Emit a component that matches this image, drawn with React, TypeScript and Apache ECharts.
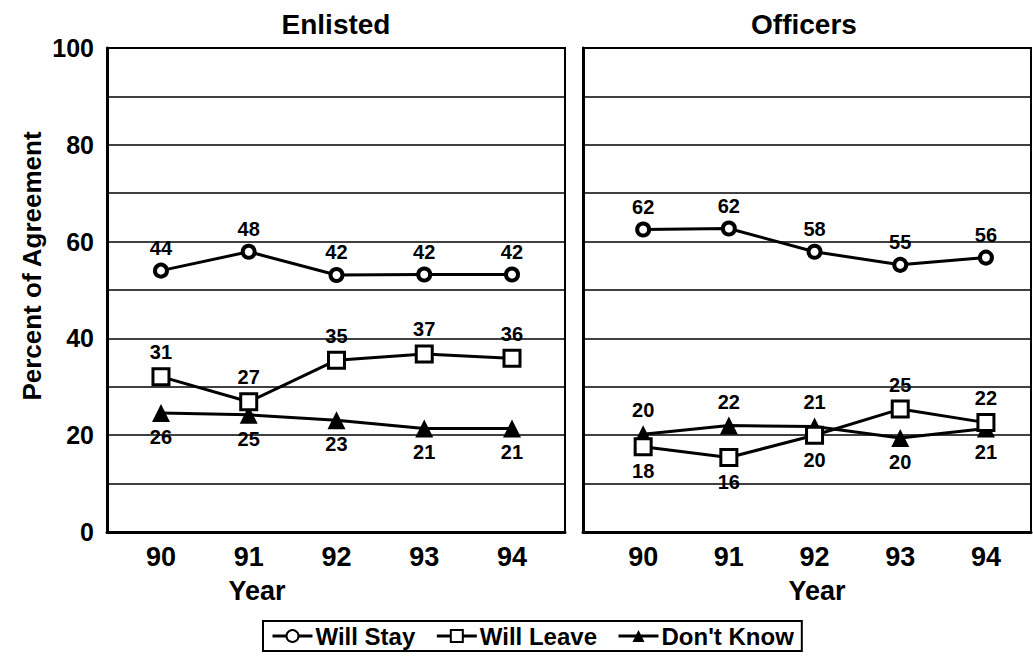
import React, { useEffect, useRef } from "react";
import * as echarts from "echarts";

const years = [90, 91, 92, 93, 94];
const yTicks = [0, 20, 40, 60, 80, 100];
const seriesNames = ["Will Stay", "Will Leave", "Don't Know"];
const panelTitles = ["Enlisted", "Officers"];

// plotted positions
const enlistedStay = [54.0, 57.9, 53.1, 53.2, 53.2];
const enlistedLeave = [32.1, 26.9, 35.5, 36.8, 35.9];
const enlistedDontKnow = [24.6, 24.2, 23.1, 21.4, 21.4];
const officersStay = [62.5, 62.7, 57.9, 55.2, 56.7];
const officersLeave = [17.6, 15.4, 20.0, 25.4, 22.6];
const officersDontKnow = [20.2, 22.0, 21.8, 19.4, 21.4];

// printed value labels
const enlistedStayLabels = [44, 48, 42, 42, 42];
const enlistedLeaveLabels = [31, 27, 35, 37, 36];
const enlistedDontKnowLabels = [26, 25, 23, 21, 21];
const officersStayLabels = [62, 62, 58, 55, 56];
const officersLeaveLabels = [18, 16, 20, 25, 22];
const officersDontKnowLabels = [20, 22, 21, 20, 21];

const FONT = "'Liberation Sans', Arial, Helvetica, sans-serif";

export default function App() {
  const ref = useRef<HTMLDivElement>(null);

  useEffect(() => {
    if (!ref.current) return;
    const chart = echarts.init(ref.current, undefined, { renderer: "svg" });

    const labelStyle = {
      show: true,
      color: "#000",
      fontFamily: FONT,
      fontWeight: "bold" as const,
      fontSize: 20,
      distance: 5,
    };

    const styles: any = {
      "Will Stay": {
        symbol: "circle",
        symbolSize: 12,
        itemStyle: { color: "#fff", borderColor: "#000", borderWidth: 4 },
      },
      "Will Leave": {
        symbol: "rect",
        symbolSize: 16,
        itemStyle: { color: "#fff", borderColor: "#000", borderWidth: 3 },
      },
      "Don't Know": {
        symbol: "triangle",
        symbolSize: 18,
        itemStyle: { color: "#000", borderColor: "#000", borderWidth: 0 },
      },
    };

    const makeSeries = (
      name: string,
      gridIdx: number,
      values: number[],
      labels: number[],
      positions: string[]
    ) => ({
      type: "line",
      name,
      xAxisIndex: gridIdx,
      yAxisIndex: gridIdx,
      ...styles[name],
      lineStyle: { color: "#000", width: 3 },
      z: name === "Will Leave" ? 3 : 2,
      data: values.map((v, i) => ({
        value: [years[i], v],
        label: { ...labelStyle, position: positions[i], formatter: String(labels[i]) },
      })),
    });

    const allTop = years.map(() => "top");
    const allBottom = years.map(() => "bottom");
    const offLeavePos = officersLeave.map((v, i) => (v > officersDontKnow[i] ? "top" : "bottom"));
    const offDkPos = officersDontKnow.map((v, i) => (v >= officersLeave[i] ? "top" : "bottom"));

    const gridDefs = [
      { left: 107, top: 48, width: 458, height: 484 },
      { left: 583, top: 48, width: 448, height: 484 },
    ];
    const xRanges = [
      { min: 89.385, max: 94.604 },
      { min: 89.298, max: 94.526 },
    ];

    const option: any = {
      animation: false,
      backgroundColor: "#fff",
      textStyle: { fontFamily: FONT },
      grid: gridDefs.map((g) => ({
        ...g,
        show: true,
        borderColor: "#000",
        borderWidth: 2,
        backgroundColor: "transparent",
      })),
      xAxis: gridDefs.map((_, i) => ({
        gridIndex: i,
        type: "value",
        min: xRanges[i].min,
        max: xRanges[i].max,
        axisLine: { show: true, onZero: false, lineStyle: { color: "#000", width: 3 } },
        axisTick: { show: false },
        splitLine: { show: false },
        axisLabel: {
          customValues: years,
          formatter: (v: number) => String(v),
          color: "#000",
          fontFamily: FONT,
          fontWeight: "bold",
          fontSize: 27,
          margin: 11,
        },
      })),
      yAxis: gridDefs.map((_, i) => ({
        gridIndex: i,
        type: "value",
        min: 0,
        max: 100,
        interval: 10,
        axisLine: { show: true, lineStyle: { color: "#000", width: 3 } },
        axisTick: { show: false },
        splitLine: { show: true, lineStyle: { color: "#000", width: 1.5 } },
        axisLabel: {
          show: i === 0,
          customValues: yTicks,
          color: "#000",
          fontFamily: FONT,
          fontWeight: "bold",
          fontSize: 25,
          margin: 13,
        },
      })),
      legend: {
        data: seriesNames,
        left: 263,
        top: 621,
        orient: "horizontal",
        itemWidth: 40,
        itemHeight: 15,
        itemGap: 20,
        padding: [3, 8, 3, 8],
        borderColor: "#000",
        borderWidth: 2,
        lineStyle: { color: "#000", width: 3 },
        textStyle: { color: "#000", fontFamily: FONT, fontWeight: "bold", fontSize: 24, padding: [0, 0, 0, -2] },
      },
      graphic: [
        {
          type: "text",
          x: 336,
          y: 24,
          style: { text: panelTitles[0], fill: "#000", font: `bold 28px ${FONT}`, textAlign: "center", textVerticalAlign: "middle" },
        },
        {
          type: "text",
          x: 804,
          y: 24,
          style: { text: panelTitles[1], fill: "#000", font: `bold 28px ${FONT}`, textAlign: "center", textVerticalAlign: "middle" },
        },
        {
          type: "text",
          x: 257,
          y: 591,
          style: { text: "Year", fill: "#000", font: `bold 27px ${FONT}`, textAlign: "center", textVerticalAlign: "middle" },
        },
        {
          type: "text",
          x: 817,
          y: 591,
          style: { text: "Year", fill: "#000", font: `bold 27px ${FONT}`, textAlign: "center", textVerticalAlign: "middle" },
        },
        {
          type: "text",
          x: 32,
          y: 266,
          rotation: Math.PI / 2,
          style: { text: "Percent of Agreement", fill: "#000", font: `bold 26px ${FONT}`, textAlign: "center", textVerticalAlign: "middle" },
        },
      ],
      series: [
        makeSeries("Will Stay", 0, enlistedStay, enlistedStayLabels, allTop),
        makeSeries("Will Leave", 0, enlistedLeave, enlistedLeaveLabels, allTop),
        makeSeries("Don't Know", 0, enlistedDontKnow, enlistedDontKnowLabels, allBottom),
        makeSeries("Will Stay", 1, officersStay, officersStayLabels, allTop),
        makeSeries("Will Leave", 1, officersLeave, officersLeaveLabels, offLeavePos),
        makeSeries("Don't Know", 1, officersDontKnow, officersDontKnowLabels, offDkPos),
      ],
    };

    chart.setOption(option);
    return () => chart.dispose();
  }, []);

  return (
    <div
      ref={ref}
      style={{ position: "fixed", left: 0, top: 0, width: 1033, height: 658, background: "#fff" }}
    />
  );
}
